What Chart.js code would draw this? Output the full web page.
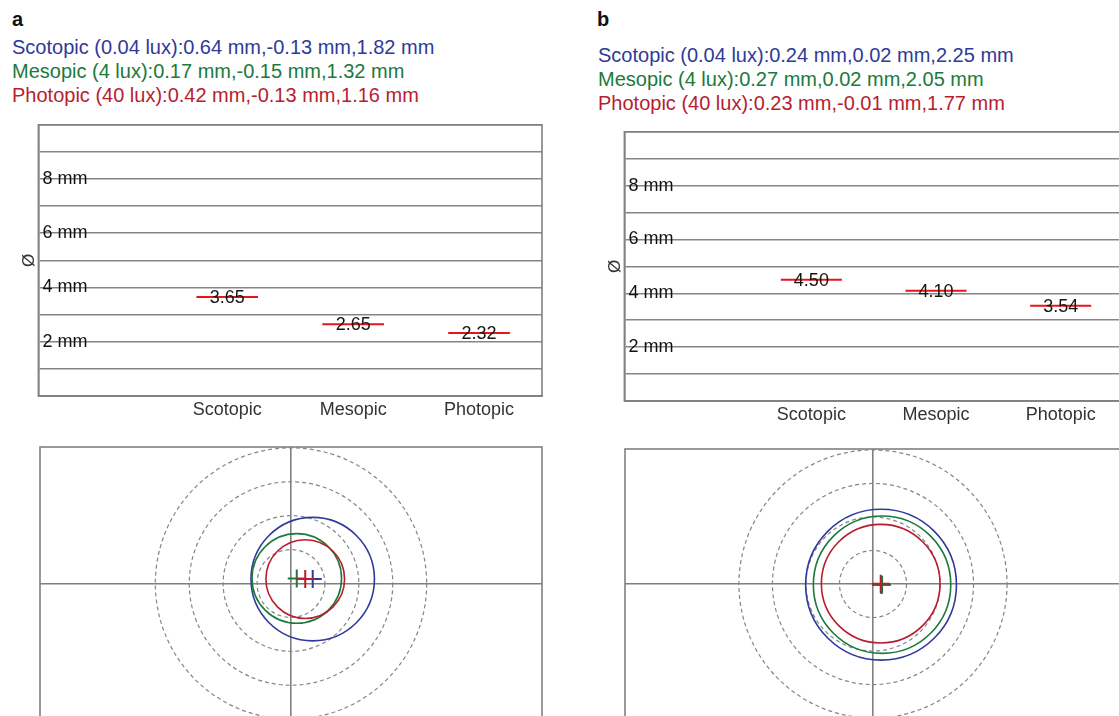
<!DOCTYPE html>
<html>
<head>
<meta charset="utf-8">
<title>Pupillometry – scotopic, mesopic, photopic</title>
<script src="https://cdn.jsdelivr.net/npm/chart.js@4.4.1/dist/chart.umd.min.js"></script>
<style>
  html, body { margin: 0; padding: 0; width: 1119px; height: 716px; overflow: hidden; background: #fff;
               font-family: "Liberation Sans", Arial, sans-serif; }
  .tag { position: absolute; font-weight: bold; font-size: 20px; line-height: 24px; color: #111; }
  .hdr { position: absolute; font-size: 20px; line-height: 24px; white-space: nowrap; }
  canvas { position: absolute; }
</style>
</head>
<body>
<div class="tag" style="left:12px;top:7px">a</div>
<div class="tag" style="left:597px;top:7px">b</div>
<div class="hdr" id="hdrA" style="left:12px;top:35px"></div>
<div class="hdr" id="hdrB" style="left:598px;top:43px"></div>

<canvas id="diamA" width="560" height="320" style="left:0px;top:110px"></canvas>
<canvas id="diamB" width="560" height="320" style="left:585px;top:117px"></canvas>
<canvas id="pupilA" width="560" height="295" style="left:0px;top:436px"></canvas>
<canvas id="pupilB" width="560" height="294" style="left:585px;top:436px"></canvas>

<script>
// Lighting conditions
const conditions = ['Scotopic', 'Mesopic', 'Photopic'];
const luxLevels = ['0.04', '4', '40'];
const categoryLabels = ['', 'Scotopic', 'Mesopic', 'Photopic'];
const diameterTicks = [2, 4, 6, 8];
const ringRadii = [1, 2, 3, 4];
const seriesColors = ['#2f3a9a', '#1b7a3c', '#b81d2e'];

// Eye a: pupil diameter (mm), centre offset x / y (mm), radius (mm)
const diameterA = [3.65, 2.65, 2.32];
const offsetXA = [0.64, 0.17, 0.42];
const offsetYA = [-0.13, -0.15, -0.13];
const radiusA = [1.82, 1.32, 1.16];

// Eye b
const diameterB = [4.50, 4.10, 3.54];
const offsetXB = [0.24, 0.27, 0.23];
const offsetYB = [0.02, 0.02, -0.01];
const radiusB = [2.25, 2.05, 1.77];

Chart.defaults.font.family = '"Liberation Sans", Arial, sans-serif';

function fillHeader(id, offX, offY, rad) {
  const box = document.getElementById(id);
  conditions.forEach((name, i) => {
    const line = document.createElement('div');
    line.style.color = seriesColors[i];
    line.textContent = name + ' (' + luxLevels[i] + ' lux):' + offX[i].toFixed(2) + ' mm,' +
      offY[i].toFixed(2) + ' mm,' + rad[i].toFixed(2) + ' mm';
    box.appendChild(line);
  });
}
fillHeader('hdrA', offsetXA, offsetYA, radiusA);
fillHeader('hdrB', offsetXB, offsetYB, radiusB);

// Grey box around the plotting area
const frame = {
  id: 'frame',
  beforeDatasetsDraw(chart) {
    const { ctx, chartArea: a } = chart;
    ctx.save();
    ctx.strokeStyle = '#808080';
    ctx.lineWidth = 1.6;
    ctx.strokeRect(a.left, a.top, a.right - a.left, a.bottom - a.top);
    ctx.restore();
  }
};

// Diameter value written over each marker
const valueLabels = {
  id: 'valueLabels',
  afterDatasetsDraw(chart) {
    const { ctx } = chart;
    const values = chart.data.datasets[0].data;
    const meta = chart.getDatasetMeta(0);
    ctx.save();
    ctx.font = '18px "Liberation Sans", Arial, sans-serif';
    ctx.fillStyle = '#151515';
    ctx.textAlign = 'center';
    ctx.textBaseline = 'middle';
    meta.data.forEach((pt, i) => {
      if (values[i] == null) return;
      ctx.fillText(values[i].toFixed(2), pt.x, pt.y + 1);
    });
    ctx.restore();
  }
};

// Dashed reference rings
const dashedRings = {
  id: 'dashedRings',
  beforeDatasetDraw(chart, args) {
    if (chart.data.datasets[args.index].dashed) chart.ctx.setLineDash([4, 3]);
  },
  afterDatasetDraw(chart) {
    chart.ctx.setLineDash([]);
  }
};

function diameterChart(id, diam, pad) {
  return new Chart(document.getElementById(id), {
    type: 'line',
    data: {
      labels: categoryLabels,
      datasets: [{
        data: [null, ...diam],
        showLine: false,
        pointStyle: 'line',
        pointRadius: c => (c.chart.scales.x.getPixelForValue(1) - c.chart.scales.x.getPixelForValue(0)) * 0.245,
        pointBorderWidth: 2,
        borderColor: '#e8141c',
        backgroundColor: '#e8141c'
      }]
    },
    options: {
      responsive: false,
      animation: false,
      events: [],
      layout: { padding: pad },
      plugins: { legend: { display: false }, tooltip: { enabled: false } },
      scales: {
        x: {
          offset: true,
          grid: { display: false, drawTicks: false },
          border: { display: true, color: '#808080', width: 1.6 },
          ticks: { color: '#333', padding: 3, font: { size: 18 }, autoSkip: false, maxRotation: 0 }
        },
        y: {
          min: 0, max: 10,
          grid: { color: '#858585', lineWidth: 1.6, drawTicks: false },
          border: { color: '#808080', width: 1.6 },
          ticks: {
            stepSize: 1, mirror: true, padding: 4, color: '#111', font: { size: 18 },
            callback: v => diameterTicks.includes(v) ? v + ' mm' : ''
          },
          title: { display: true, text: 'Ø', color: '#333', font: { size: 17 }, padding: { top: 3, bottom: -9.4 } }
        }
      }
    },
    plugins: [frame, valueLabels]
  });
}

function pupilChart(id, offX, offY, rad, pad) {
  const mmToPx = (chart, r) => Math.abs(chart.scales.x.getPixelForValue(r) - chart.scales.x.getPixelForValue(0));
  // Listed from top-most to bottom-most: Chart.js paints the first dataset last
  const datasets = [];
  conditions.slice().reverse().forEach((name) => {
    const i = conditions.indexOf(name);
    datasets.push({
      label: name + ' centre',
      data: [{ x: offX[i], y: offY[i] }],
      pointStyle: 'cross',
      pointRadius: 9,
      pointBorderColor: seriesColors[i],
      pointBorderWidth: 2
    });
  });
  conditions.slice().reverse().forEach((name) => {
    const i = conditions.indexOf(name);
    datasets.push({
      label: name,
      data: [{ x: offX[i], y: offY[i], r: rad[i] }],
      pointStyle: 'circle',
      pointRadius: c => mmToPx(c.chart, c.raw.r),
      pointBorderColor: seriesColors[i],
      pointBorderWidth: 1.6,
      pointBackgroundColor: 'rgba(0,0,0,0)'
    });
  });
  datasets.push({
    label: 'rings',
    dashed: true,
    data: ringRadii.map(r => ({ x: 0, y: 0, r })),
    pointStyle: 'circle',
    pointRadius: c => mmToPx(c.chart, c.raw.r),
    pointBorderColor: '#858585',
    pointBorderWidth: 1.2,
    pointBackgroundColor: 'rgba(0,0,0,0)'
  });
  const zeroOnly = s => { s.ticks = [{ value: 0 }]; };
  return new Chart(document.getElementById(id), {
    type: 'scatter',
    data: { datasets },
    options: {
      responsive: false,
      animation: false,
      events: [],
      layout: { padding: pad },
      plugins: { legend: { display: false }, tooltip: { enabled: false } },
      scales: {
        x: {
          type: 'linear', min: -7.4, max: 7.4,
          afterBuildTicks: zeroOnly,
          ticks: { display: false },
          grid: { color: '#808080', lineWidth: 1.6, drawTicks: false },
          border: { display: false }
        },
        y: {
          type: 'linear', min: -4.03, max: 4.03, reverse: true,
          afterBuildTicks: zeroOnly,
          ticks: { display: false },
          grid: { color: '#808080', lineWidth: 1.6, drawTicks: false },
          border: { display: false }
        }
      }
    },
    plugins: [frame, dashedRings]
  });
}

diameterChart('diamA', diameterA, { left: 16.4, top: 13.2, right: 18, bottom: 6.4 });
diameterChart('diamB', diameterB, { left: 17.4, top: 13, right: 22, bottom: 8.4 });
pupilChart('pupilA', offsetXA, offsetYA, radiusA, { left: 40, top: 10, right: 18, bottom: 2 });
pupilChart('pupilB', offsetXB, offsetYB, radiusB, { left: 40, top: 13, right: 24, bottom: 2 });
</script>
</body>
</html>
